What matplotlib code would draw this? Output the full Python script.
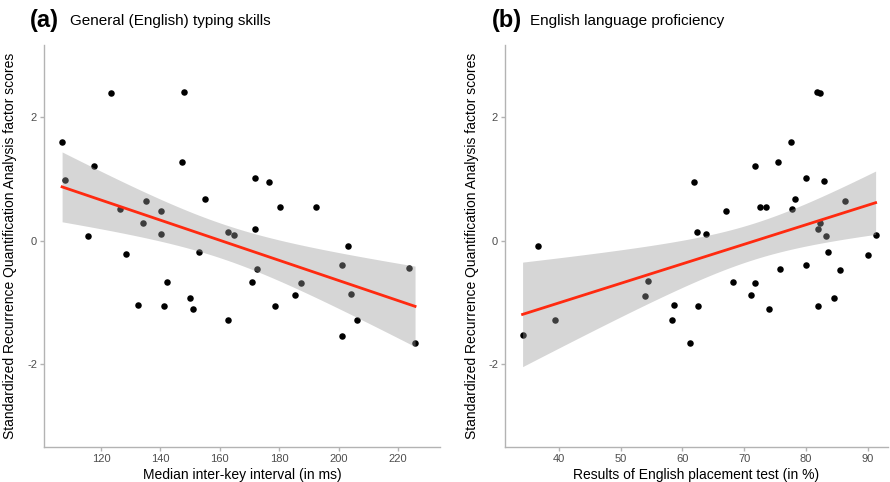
import numpy as np
import matplotlib.pyplot as plt

# (a) median inter-key interval (ms) vs. factor scores
ikiMs = [123.5, 148.1, 106.9, 117.6, 147.1, 107.8, 171.7, 176.5, 154.9, 135.3,
         180.4, 192.2, 126.3, 140.1, 134.3, 171.7, 162.7, 164.8, 140.1, 115.7,
         128.5, 152.9, 203.1, 201.1, 223.6, 172.6, 142.2, 170.7, 187.4, 185.4,
         204.1, 150.0, 132.4, 141.1, 151.0, 178.5, 206.0, 162.8, 201.1, 225.7]
rqaA = [2.40, 2.41, 1.60, 1.21, 1.28, 0.98, 1.02, 0.95, 0.68, 0.65,
        0.55, 0.55, 0.52, 0.48, 0.29, 0.19, 0.15, 0.10, 0.11, 0.08,
        -0.22, -0.19, -0.08, -0.39, -0.44, -0.46, -0.66, -0.67, -0.69, -0.88,
        -0.87, -0.93, -1.04, -1.05, -1.10, -1.05, -1.29, -1.29, -1.54, -1.66]

# (b) English placement test (%) vs. factor scores
placement = [81.8, 82.3, 77.55, 75.5, 71.8, 61.9, 80.0, 83.0, 78.2, 86.3,
             72.5, 73.5, 77.8, 67.0, 82.3, 82.0, 62.4, 63.8, 83.2, 91.3,
             36.6, 83.6, 90.1, 80.0, 75.8, 85.5, 54.5, 68.2, 71.7, 53.9,
             71.1, 84.6, 58.7, 62.6, 74.0, 82.0, 39.3, 58.3, 34.1, 61.2]
rqaB = [2.41, 2.40, 1.60, 1.27, 1.21, 0.95, 1.02, 0.97, 0.68, 0.65,
        0.55, 0.55, 0.52, 0.48, 0.28, 0.19, 0.15, 0.11, 0.08, 0.09,
        -0.08, -0.19, -0.23, -0.39, -0.46, -0.47, -0.65, -0.67, -0.69, -0.89,
        -0.88, -0.93, -1.04, -1.05, -1.10, -1.06, -1.29, -1.29, -1.53, -1.66]

yTicks = [-2, 0, 2]
ticksA = [120, 140, 160, 180, 200, 220]
ticksB = [40, 50, 60, 70, 80, 90]

T_975 = 2.024  # t quantile, df = 38
osGrey = '#b3b3b3'
ylabel = 'Standardized Recurrence Quantification Analysis factor scores'


def lm_band(x, y):
    x = np.asarray(x, float)
    y = np.asarray(y, float)
    b, a = np.polyfit(x, y, 1)
    n = len(x)
    res = y - (a + b * x)
    s = np.sqrt(np.sum(res ** 2) / (n - 2))
    xs = np.linspace(x.min(), x.max(), 80)
    se = s * np.sqrt(1 / n + (xs - x.mean()) ** 2 / np.sum((x - x.mean()) ** 2))
    fit = a + b * xs
    return xs, fit, fit - T_975 * se, fit + T_975 * se


def panel(ax, x, y, xticks, xlim, xlabel, letter, title):
    ax.scatter(x, y, s=22, color='black', linewidths=0, zorder=2)
    xs, fit, lo, hi = lm_band(x, y)
    ax.fill_between(xs, lo, hi, color='#999999', alpha=0.4, linewidth=0, zorder=3)
    ax.plot(xs, fit, color='#ff2a10', lw=2, zorder=4)

    ax.set_xlim(xlim)
    ax.set_ylim(-3.34, 3.17)
    ax.set_xticks(xticks)
    ax.set_yticks(yTicks)
    for sp in ['top', 'right']:
        ax.spines[sp].set_visible(False)
    for sp in ['left', 'bottom']:
        ax.spines[sp].set_color(osGrey)
        ax.spines[sp].set_linewidth(1)
    ax.tick_params(colors=osGrey, labelcolor='#4d4d4d', labelsize=8,
                   length=3, width=1, pad=2)
    ax.set_xlabel(xlabel, fontsize=10)
    ax.set_ylabel(ylabel, fontsize=10)
    ax.xaxis.set_label_coords(0.5, -0.052)
    ax.yaxis.set_label_coords(-0.068, 0.5)

    ax.text(-0.035, 1.06, letter, transform=ax.transAxes, fontsize=17,
            fontweight='bold', va='center', ha='left')
    ax.text(0.065, 1.06, title, transform=ax.transAxes, fontsize=11,
            va='center', ha='left')


plt.rcParams['font.family'] = ['Liberation Sans', 'DejaVu Sans']
plt.rcParams['axes.unicode_minus'] = False
fig = plt.figure(figsize=(8.9, 4.82), dpi=100)
axA = fig.add_axes([0.0494, 0.0726, 0.445, 0.834])
axB = fig.add_axes([0.5674, 0.0726, 0.4303, 0.834])

panel(axA, ikiMs, rqaA, ticksA, (100.8, 234.1),
      'Median inter-key interval (in ms)', '(a)', 'General (English) typing skills')
panel(axB, placement, rqaB, ticksB, (31.25, 93.3),
      'Results of English placement test (in %)', '(b)', 'English language proficiency')

fig.savefig('out.png', dpi=100)
